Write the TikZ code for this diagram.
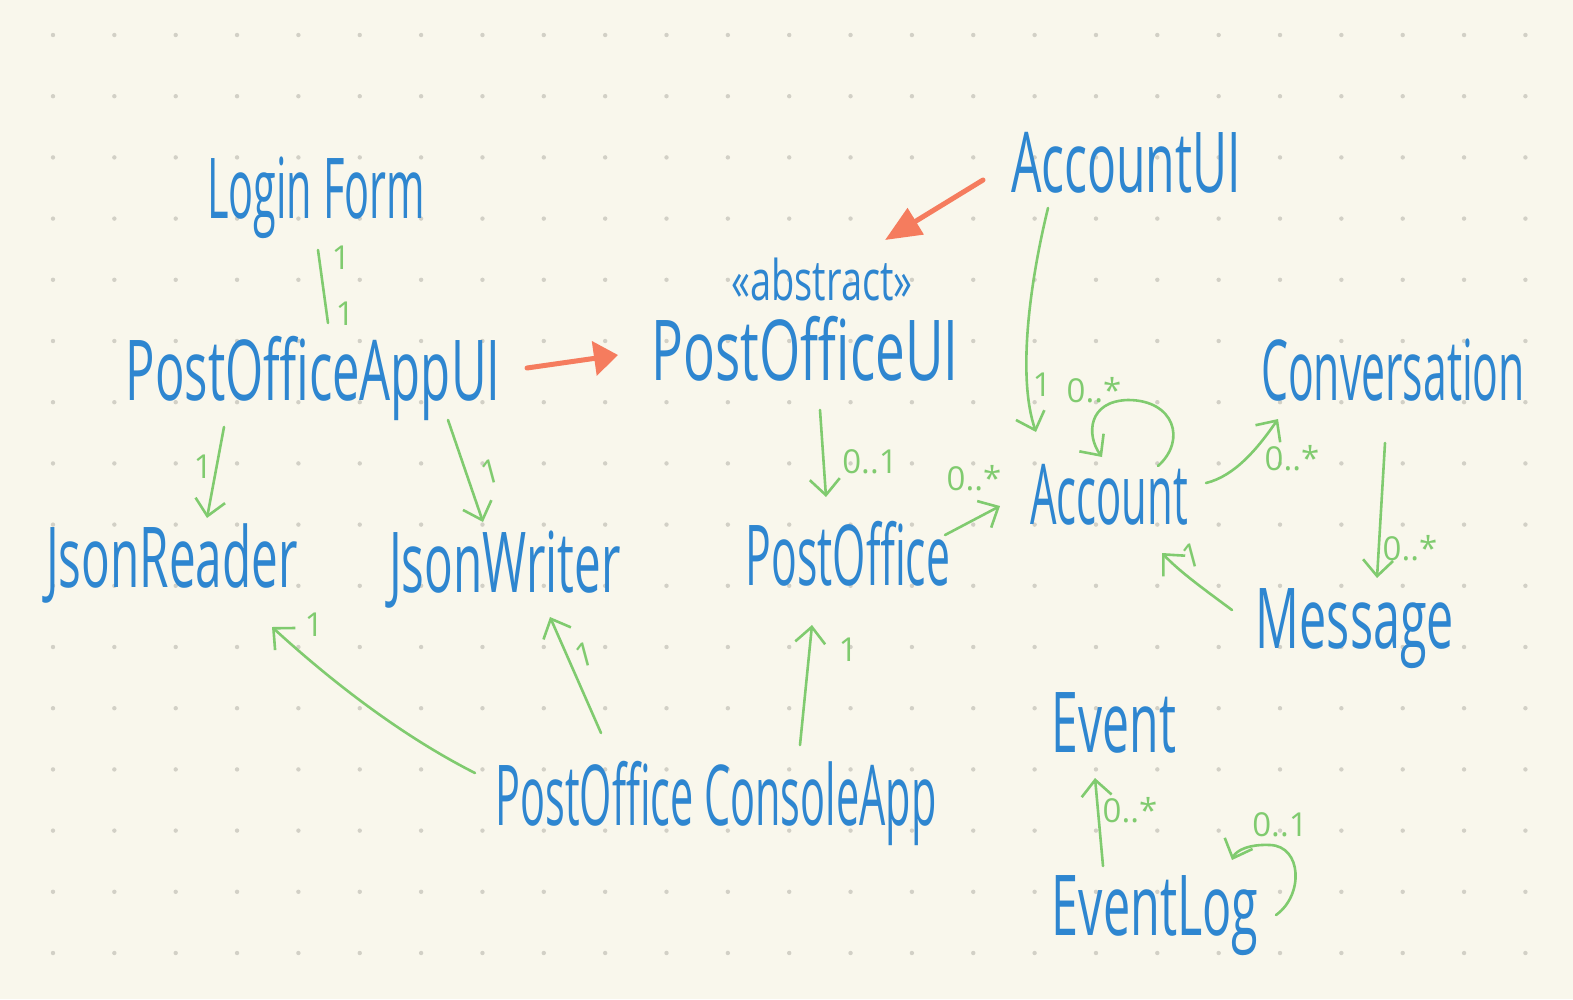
\documentclass[tikz,border=0pt]{standalone}
\usepackage{fontspec}
\setmainfont{Open Sans}
\newfontfamily\handfont[FakeStretch=0.53]{Open Sans}
\usetikzlibrary{arrows.meta}
\definecolor{bg}{HTML}{F9F7EC}
\definecolor{blu}{HTML}{2E86D0}
\definecolor{grn}{HTML}{80CB6F}
\definecolor{org}{HTML}{F57C5E}
\definecolor{dotc}{HTML}{D2D0C6}
\newcommand\hsq[2]{\scalebox{#1}[1]{#2}}
\begin{document}
\begin{tikzpicture}[x=1pt,y=-1pt,
  cls/.style={text=blu, font=\fontsize{84}{84}\handfont, inner sep=0pt, anchor=base},
  stereo/.style={text=blu, font=\fontsize{56}{56}\handfont, inner sep=0pt, anchor=base},
  lab/.style={text=grn, font=\fontsize{33}{33}\selectfont, inner sep=0pt},
  assoc/.style={draw=grn, line width=2.6pt, line cap=round},
  garrow/.style={assoc, -{Straight Barb[length=16pt,width=30pt,line width=2.6pt]}},
  oarrow/.style={draw=org, line width=5pt, line cap=round, -{Triangle[length=24pt,width=34pt]}},
  oarrowbig/.style={draw=org, line width=5pt, line cap=round, -{Triangle[length=36pt,width=30pt]}}
]
\fill[bg] (0,0) rectangle (1573,999);
\useasboundingbox (0,0) rectangle (1573,999);
\foreach \i in {0,...,24}{\foreach \j in {0,...,15}{\fill[dotc] (53+61.35*\i,35+61.2*\j) circle (2.2);}}

% classes
\node[cls] (login) at (316,218) {\hsq{0.93}{Login Form}};
\node[cls] (appui) at (313,400) {\hsq{1.10}{PostOfficeAppUI}};
\node[cls] (jreader) at (172,587) {\hsq{1.07}{JsonReader}};
\node[cls] (jwriter) at (505,592) {\hsq{1.07}{JsonWriter}};
\node[stereo] (abstract) at (822,300) {\hsq{1.28}{«abstract»}};
\node[cls] (poui) at (805,380) {\hsq{1.19}{PostOfficeUI}};
\node[cls] (postoffice) at (848,585) {\hsq{0.96}{PostOffice}};
\node[cls] (accountui) at (1126,192) {\hsq{1.08}{AccountUI}};
\node[cls] (account) at (1109,524) {\hsq{0.94}{Account}};
\node[cls] (conversation) at (1393,400) {\hsq{0.96}{Conversation}};
\node[cls] (message) at (1355,648) {\hsq{1.09}{Message}};
\node[cls] (event) at (1114,752) {\hsq{1.08}{Event}};
\node[cls] (eventlog) at (1155,935) {\hsq{1.09}{EventLog}};
\node[cls] (console) at (716,825) {\hsq{0.93}{PostOffice ConsoleApp}};

% orange generalisations
\draw[oarrow] ([shift={(214,-32)}]appui.base) -- ([shift={(-187,-25)}]poui.base);
\draw[oarrowbig] ([shift={(-143,-12)}]accountui.base) -- ([shift={(80,-140)}]poui.base);

% green associations
\draw[assoc] ([shift={(2,32)}]login.base) -- ([shift={(15,-77)}]appui.base);
\node[lab] (l1a) at (341,258) {1};
\node[lab] (l1b) at (345,314) {1};

\draw[garrow] ([shift={(-89,27)}]appui.base) -- ([shift={(35,-69)}]jreader.base);
\node[lab] (l2) at (203,467) {1};
\draw[garrow] ([shift={(135,20)}]appui.base) -- ([shift={(-22,-70)}]jwriter.base);
\node[lab, rotate=15] (l3) at (491,472) {1};

\draw[garrow] ([shift={(-78,16)}]accountui.base) .. controls (1028,290) and (1018,380) .. ([shift={(-73,-92)}]account.base);
\node[lab] (l4) at (1042,385) {1};

\draw[garrow] ([shift={(15,30)}]poui.base) -- ([shift={(-22,-88)}]postoffice.base);
\node[lab] (l5) at (870,462) {0..1};

\draw[garrow] ([shift={(97,-50)}]postoffice.base) -- ([shift={(-109,-18)}]account.base);
\node[lab] (l6) at (974,478) {0..*};

\draw[garrow] ([shift={(49,-58)}]account.base) .. controls (1187,440) and (1174,400) .. (1128,400) .. controls (1088,401) and (1086,435) .. ([shift={(-7,-67)}]account.base);
\node[lab] (l7) at (1094,390) {0..*};

\draw[garrow] ([shift={(97,-41)}]account.base) .. controls (1235,476) and (1258,448) .. ([shift={(-115,19)}]conversation.base);
\node[lab] (l8) at (1292,458) {0..*};

\draw[garrow] ([shift={(-8,43)}]conversation.base) -- ([shift={(22,-70)}]message.base);
\node[lab] (l9) at (1410,548) {0..*};

\draw[garrow] ([shift={(-123,-38)}]message.base) .. controls (1205,590) and (1180,572) .. ([shift={(53,29)}]account.base);
\node[lab, rotate=15] (l10) at (1192,556) {1};

\draw[garrow] ([shift={(-241,-52)}]console.base) .. controls (400,735) and (330,680) .. ([shift={(100,40)}]jreader.base);
\node[lab] (l11) at (314,625) {1};
\draw[garrow] ([shift={(-115,-92)}]console.base) -- ([shift={(45,25)}]jwriter.base);
\node[lab, rotate=15] (l12) at (585,655) {1};
\draw[garrow] ([shift={(84,-80)}]console.base) -- ([shift={(-36,40)}]postoffice.base);
\node[lab] (l13) at (848,650) {1};

\draw[garrow] ([shift={(-52,-69)}]eventlog.base) -- ([shift={(-19,26)}]event.base);
\node[lab] (l14) at (1130,810) {0..*};
\draw[garrow] ([shift={(121,-20)}]eventlog.base) .. controls (1304,895) and (1302,846) .. (1270,845) .. controls (1250,844) and (1236,850) .. ([shift={(77,-75)}]eventlog.base);
\node[lab] (l15) at (1280,825) {0..1};
\end{tikzpicture}
\end{document}
